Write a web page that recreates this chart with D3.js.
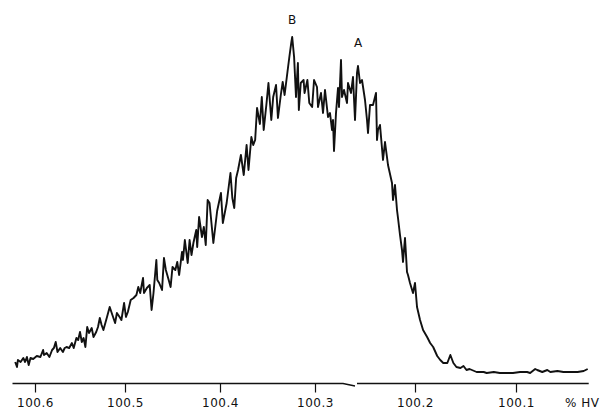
<!DOCTYPE html>
<html>
<head>
<meta charset="utf-8">
<script src="https://cdn.jsdelivr.net/npm/d3@7"></script>
<style>
  body { margin: 0; background: #fff; }
  svg { display: block; }
  .tick text, .unit, .peak { font-family: "DejaVu Sans", sans-serif; font-size: 12px; fill: #111; }
</style>
</head>
<body>
<svg width="600" height="409"></svg>
<script>
// % of HV, high to low
const hv = [
  100.622, 100.620, 100.619, 100.616, 100.613, 100.611, 100.609, 100.607, 100.605, 100.602,
  100.598, 100.594, 100.591, 100.590, 100.587, 100.584, 100.581, 100.579, 100.577, 100.575,
  100.572, 100.569, 100.567, 100.565, 100.562, 100.559, 100.557, 100.554, 100.552, 100.550,
  100.548, 100.546, 100.544, 100.542, 100.540, 100.537, 100.535, 100.532, 100.530, 100.528,
  100.526, 100.524, 100.520, 100.517, 100.514, 100.511, 100.509, 100.506, 100.504, 100.501,
  100.499, 100.497, 100.494, 100.491, 100.488, 100.486, 100.484, 100.481, 100.480, 100.477,
  100.474, 100.472, 100.470, 100.467, 100.466, 100.464, 100.461, 100.459, 100.457, 100.454,
  100.452, 100.450, 100.447, 100.445, 100.443, 100.440, 100.439, 100.437, 100.434, 100.432,
  100.430, 100.428, 100.425, 100.424, 100.422, 100.419, 100.417, 100.415, 100.413, 100.411,
  100.407, 100.403,
  100.399, 100.397, 100.393, 100.389, 100.387, 100.385, 100.383, 100.381, 100.378, 100.375,
  100.372, 100.370, 100.367, 100.365, 100.363, 100.361, 100.358, 100.356, 100.354, 100.351,
  100.349, 100.346, 100.344, 100.341, 100.339, 100.336, 100.334, 100.332, 100.329, 100.327,
  100.325, 100.324, 100.322, 100.320, 100.318, 100.317, 100.315, 100.312, 100.311, 100.308,
  100.306, 100.303, 100.301,
  100.298, 100.297, 100.294, 100.292, 100.290, 100.287, 100.285, 100.283, 100.282, 100.281,
  100.279, 100.277, 100.276, 100.274, 100.273, 100.271, 100.268, 100.267, 100.264, 100.262,
  100.260, 100.258, 100.257, 100.255, 100.253, 100.250, 100.248, 100.247, 100.245, 100.242,
  100.239, 100.238, 100.237, 100.235, 100.232, 100.230, 100.227, 100.223, 100.222, 100.220,
  100.218, 100.217, 100.215, 100.213, 100.212, 100.210, 100.208, 100.207, 100.205, 100.202,
  100.200, 100.198, 100.195, 100.192, 100.188, 100.185, 100.182, 100.178, 100.175, 100.172,
  100.168, 100.165, 100.162, 100.159, 100.155, 100.152, 100.149, 100.146, 100.139, 100.132,
  100.129, 100.122, 100.116, 100.109, 100.103, 100.096, 100.089, 100.086, 100.081, 100.079,
  100.074, 100.069, 100.066, 100.059, 100.053, 100.046, 100.039, 100.033, 100.029
];

// signal height (arbitrary units)
const counts = [
  10, 5, 12, 10, 14, 10, 15, 7, 14, 13,
  16, 15, 22, 17, 19, 15, 22, 24, 30, 20,
  24, 20, 24, 25, 24, 29, 24, 34, 32, 40,
  30, 34, 25, 45, 39, 44, 35, 40, 45, 54,
  47, 42, 55, 65, 57, 49, 59, 55, 52, 69,
  55, 60, 72, 74, 77, 85, 79, 94, 79, 84,
  87, 62, 79, 112, 92, 89, 82, 114, 102, 92,
  85, 105, 102, 110, 97, 120, 112, 132, 109, 132,
  117, 129, 142, 125, 155, 135, 145, 127, 172, 169,
  129, 161,
  179, 149, 169, 199, 174, 164, 194, 202, 217, 197,
  227, 202, 235, 227, 232, 264, 248, 275, 242, 269,
  289, 252, 275, 287, 254, 277, 290, 277, 300, 315,
  329, 335, 315, 275, 309, 262, 289, 292, 279, 292,
  269, 265, 292,
  285, 265, 279, 259, 282, 255, 259, 242, 252, 221,
  259, 284, 265, 312, 275, 282, 269, 289, 279, 295,
  252, 299, 306, 289, 292, 272, 252, 239, 267, 267,
  279, 232, 242, 247, 212, 230, 207, 189, 172, 187,
  162, 154, 137, 122, 110, 134, 100, 97, 89, 79,
  89, 65, 52, 42, 35, 29, 25, 16, 12, 9,
  9, 17, 9, 5, 4, 6, 2, 3, 0, 0,
  -1, 0, -1, -1, -1, 0, 0, -1, 3, 2,
  0, 2, 0, 1, 0, 0, 0, 1, 3
];

const tickValues = [100.6, 100.5, 100.4, 100.3, 100.2, 100.1];
const peakNames = ["B", "A"];
const peakHv = [100.324, 100.257];
const peakCounts = [348, 325];

const svg = d3.select("svg");
const axisY = 383.5;

// scanned paper stretches a little, so the scale is piecewise
const x = d3.scaleLinear()
  .domain([100.6, 100.5, 100.4, 100.3, 100.2, 100.1])
  .range([35, 125, 220, 315, 415, 516]);

const y = d3.scaleLinear()
  .domain([0, 340])
  .range([372, 32]);

const line = d3.line()
  .x((d, i) => x(hv[i]))
  .y(d => y(d));

svg.append("path")
  .datum(counts)
  .attr("d", line)
  .attr("fill", "none")
  .attr("stroke", "#111")
  .attr("stroke-width", 1.9)
  .attr("stroke-linejoin", "round");

// baseline with the little kink where the chart paper was joined
const base = d3.line().x(d => x(d[0])).y(d => axisY + d[1]);
svg.append("path")
  .attr("d", base([[100.625, 0], [100.272, 0], [100.260, 2.5]]))
  .attr("fill", "none").attr("stroke", "#111").attr("stroke-width", 1.3);
svg.append("path")
  .attr("d", base([[100.258, 0], [100.028, 0]]))
  .attr("fill", "none").attr("stroke", "#111").attr("stroke-width", 1.3);

const axis = svg.append("g")
  .attr("transform", `translate(0,${axisY})`)
  .call(d3.axisBottom(x)
    .tickValues(tickValues)
    .tickSize(9)
    .tickFormat(d3.format(".1f")));

axis.select(".domain").remove();
axis.selectAll(".tick line").attr("stroke", "#111").attr("stroke-width", 1.2);
axis.selectAll(".tick text")
  .attr("y", 23.5)
  .attr("dy", 0)
  .attr("letter-spacing", 0.5)
  .attr("font-family", null)
  .attr("font-size", null);

svg.append("text")
  .attr("class", "unit")
  .attr("x", 565)
  .attr("y", 407)
  .attr("letter-spacing", 0.5)
  .text("% HV");

svg.selectAll(".peak")
  .data(peakNames)
  .join("text")
  .attr("class", "peak")
  .attr("x", (d, i) => x(peakHv[i]))
  .attr("y", (d, i) => y(peakCounts[i]))
  .attr("text-anchor", "middle")
  .text(d => d);
</script>
</body>
</html>
